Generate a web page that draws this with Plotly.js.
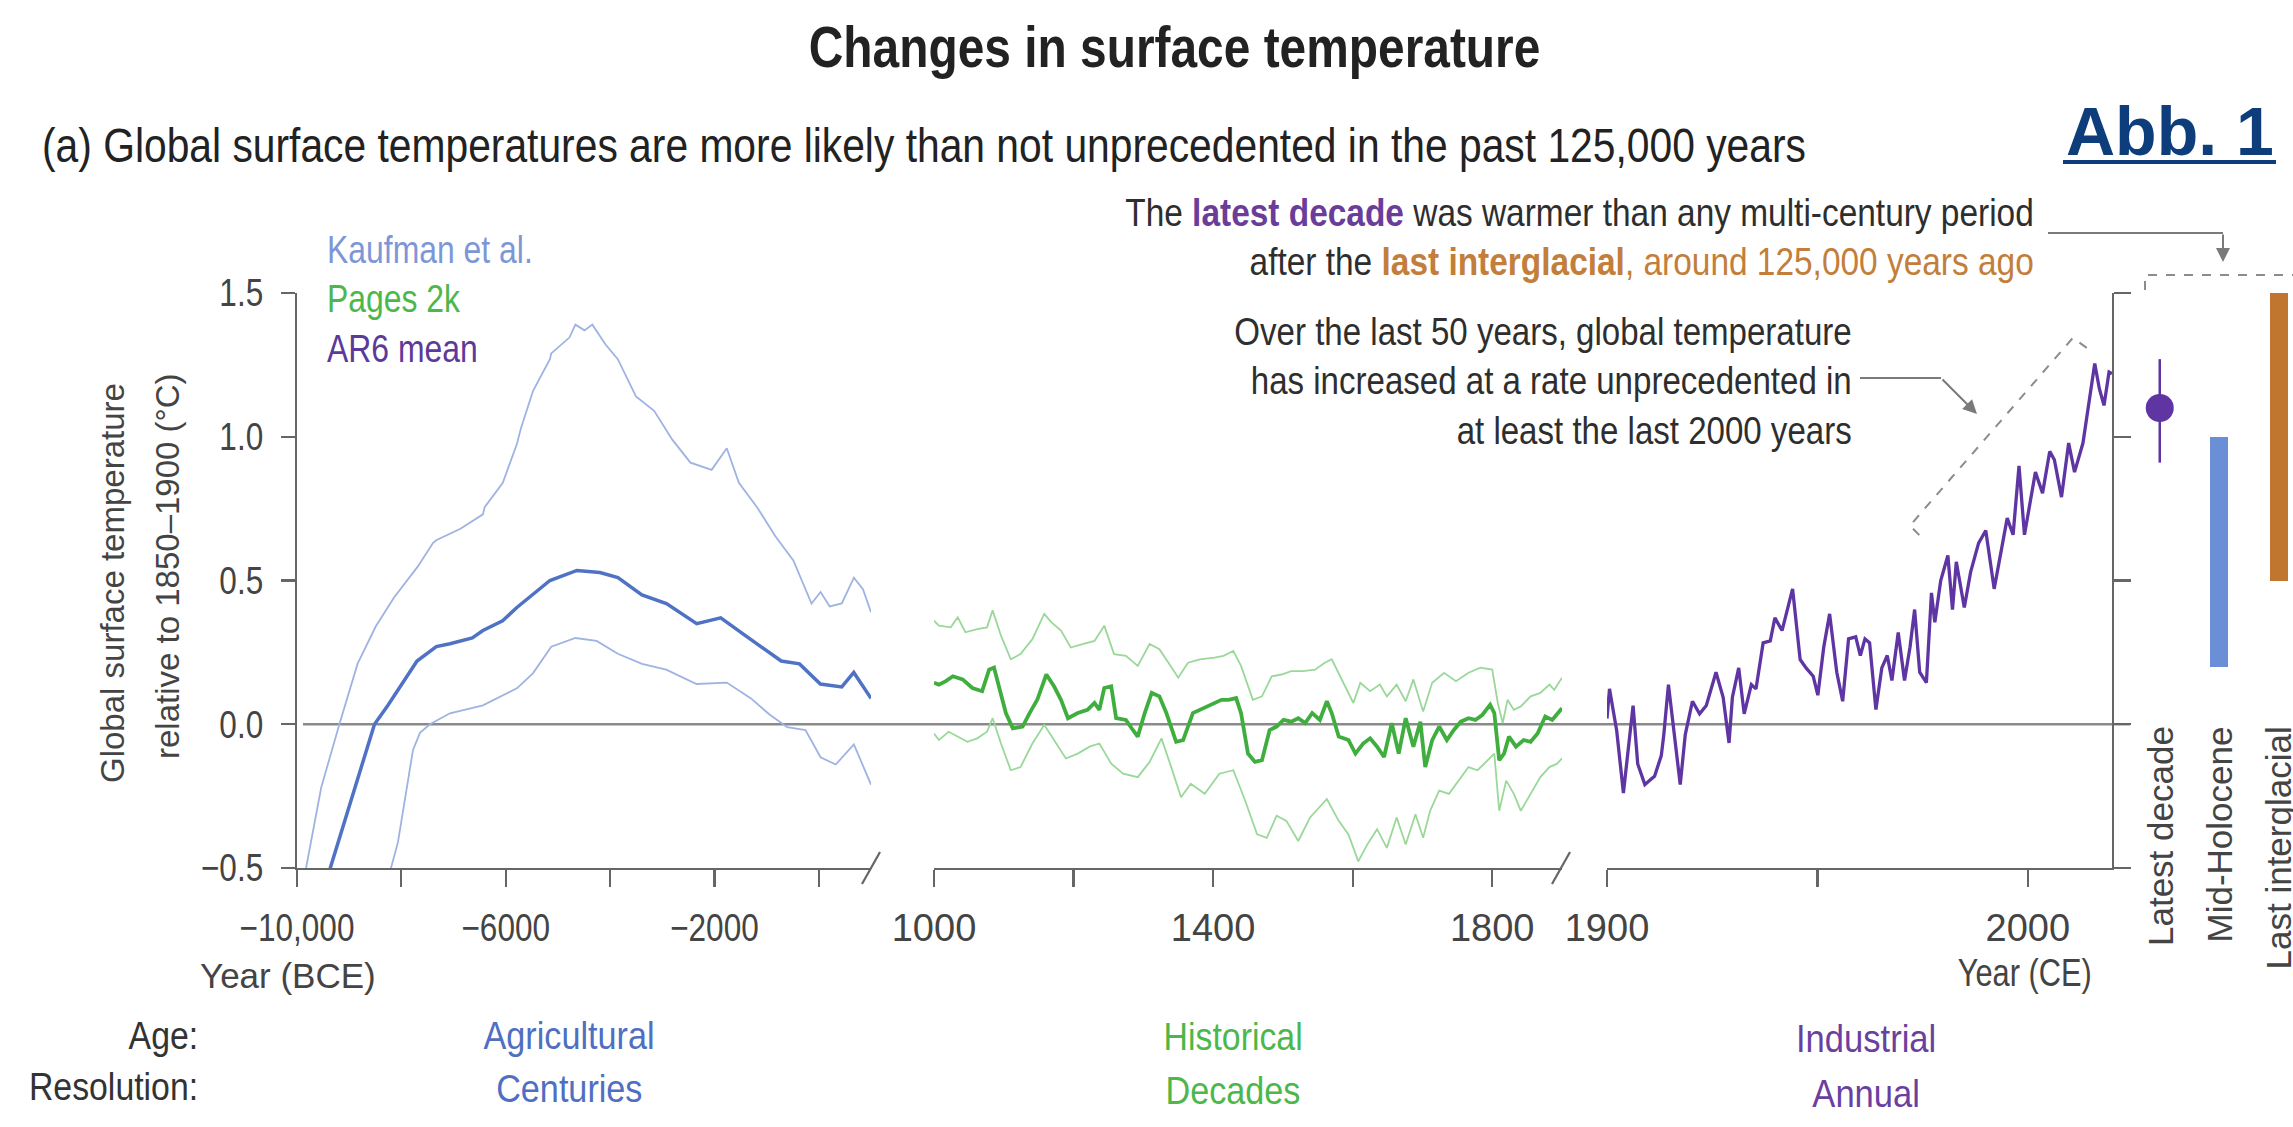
<!DOCTYPE html>
<html>
<head>
<meta charset="utf-8">
<script src="https://cdn.plot.ly/plotly-3.0.1.min.js"></script>
<style>html,body{margin:0;padding:0;background:#fff;}#chart{width:2293px;height:1127px;}</style>
</head>
<body>
<div id="chart"></div>
<script>
// ---------------- DATA ----------------
// Kaufman et al. (Agricultural age, centuries resolution) — year CE (negative = BCE)
const kaufMeanYear = [-9430,-9362,-8956,-8515,-8260,-7960,-7700,-7330,-7069,-6640,-6437,-6060,-5786,-5153,-4636,-4195,-3850,-3390,-2920,-2340,-1880,-1420,-720,-370,30,440,670,1000];
const kaufMean     = [-0.56,-0.5,-0.26,0.0,0.065,0.15,0.22,0.27,0.28,0.30,0.326,0.36,0.406,0.5,0.535,0.528,0.51,0.45,0.42,0.35,0.37,0.31,0.22,0.21,0.14,0.13,0.18,0.09];
const kaufUpperYear = [-9880,-9826,-9536,-9188,-8840,-8492,-8352,-8144,-7680,-7395,-7332,-6868,-6437,-6404,-6056,-5786,-5708,-5476,-5153,-5128,-4780,-4664,-4490,-4340,-4084,-3852,-3504,-3156,-2808,-2460,-2054,-1764,-1532,-1184,-836,-488,-140,34,208,440,672,846,1000];
const kaufUpper     = [-0.58,-0.5,-0.22,0.0,0.21,0.34,0.38,0.44,0.55,0.63,0.64,0.68,0.73,0.755,0.84,0.975,1.03,1.16,1.27,1.29,1.345,1.39,1.37,1.39,1.32,1.27,1.14,1.09,0.99,0.91,0.885,0.96,0.84,0.755,0.655,0.57,0.42,0.46,0.41,0.42,0.51,0.47,0.39];
const kaufLowerYear = [-8260,-8199,-8065,-7920,-7778,-7644,-7452,-7069,-6437,-5786,-5479,-5128,-4664,-4258,-3852,-3388,-2924,-2344,-1764,-1300,-952,-604,-256,34,324,672,1000];
const kaufLower     = [-0.56,-0.5,-0.41,-0.25,-0.09,-0.03,0.0,0.038,0.066,0.125,0.177,0.27,0.30,0.29,0.245,0.21,0.19,0.14,0.145,0.09,0.035,-0.01,-0.02,-0.115,-0.14,-0.07,-0.21];

// PAGES 2k (Historical age, decades resolution)
const pagesMeanYear = [1000,1007,1017,1027,1041,1055,1069,1079,1086,1093,1103,1113,1127,1137,1148,1161,1172,1182,1192,1206,1220,1230,1237,1244,1254,1261,1275,1285,1292,1302,1312,1323,1333,1347,1357,1371,1381,1391,1402,1412,1422,1433,1440,1450,1460,1470,1481,1491,1501,1512,1522,1532,1542,1553,1563,1570,1580,1594,1604,1615,1625,1635,1645,1656,1666,1676,1687,1697,1704,1714,1724,1735,1745,1755,1766,1776,1786,1797,1803,1810,1817,1824,1834,1845,1855,1865,1876,1886,1900];
const pagesMean     = [0.144,0.138,0.15,0.167,0.156,0.126,0.115,0.19,0.197,0.132,0.039,-0.014,-0.008,0.039,0.085,0.173,0.132,0.085,0.021,0.039,0.05,0.074,0.05,0.126,0.132,0.021,0.015,-0.02,-0.043,0.039,0.109,0.097,0.039,-0.061,-0.055,0.039,0.05,0.062,0.074,0.085,0.085,0.091,0.039,-0.102,-0.131,-0.125,-0.02,-0.008,0.015,0.009,0.021,0.004,0.039,0.015,0.08,0.039,-0.043,-0.055,-0.102,-0.067,-0.049,-0.078,-0.114,0.004,-0.102,0.021,-0.078,0.009,-0.149,-0.055,-0.008,-0.055,-0.02,0.009,0.021,0.015,0.033,0.068,0.039,-0.125,-0.102,-0.043,-0.078,-0.055,-0.061,-0.032,0.027,0.015,0.056];
const pagesUpperYear = [1000,1007,1024,1034,1045,1062,1076,1084,1096,1110,1124,1141,1158,1168,1182,1196,1213,1230,1244,1258,1275,1292,1309,1323,1336,1350,1364,1381,1402,1415,1429,1440,1457,1470,1484,1498,1512,1529,1546,1560,1570,1584,1601,1611,1625,1639,1649,1663,1676,1687,1701,1714,1731,1748,1766,1783,1800,1808,1815,1822,1831,1841,1855,1869,1882,1889,1900];
const pagesUpper     = [0.36,0.343,0.337,0.372,0.32,0.331,0.337,0.396,0.308,0.226,0.244,0.296,0.384,0.355,0.326,0.267,0.279,0.29,0.343,0.244,0.238,0.203,0.279,0.261,0.214,0.162,0.214,0.226,0.232,0.238,0.255,0.203,0.085,0.097,0.167,0.173,0.185,0.185,0.19,0.214,0.226,0.156,0.074,0.144,0.115,0.138,0.097,0.138,0.08,0.156,0.044,0.144,0.179,0.15,0.179,0.197,0.19,0.074,0.004,0.085,0.05,0.062,0.097,0.109,0.138,0.12,0.162];
const pagesLowerYear = [1000,1007,1021,1034,1048,1062,1076,1084,1096,1110,1124,1141,1158,1172,1189,1206,1223,1237,1254,1271,1292,1309,1326,1340,1354,1368,1388,1409,1429,1446,1463,1477,1491,1505,1522,1539,1563,1580,1594,1608,1621,1635,1649,1663,1676,1690,1701,1711,1724,1738,1752,1766,1779,1793,1803,1810,1820,1831,1841,1855,1869,1882,1893,1900];
const pagesLower     = [-0.032,-0.055,-0.026,-0.043,-0.061,-0.049,-0.026,0.021,-0.067,-0.16,-0.149,-0.067,-0.002,-0.055,-0.119,-0.102,-0.078,-0.067,-0.137,-0.172,-0.184,-0.131,-0.049,-0.149,-0.254,-0.207,-0.242,-0.172,-0.16,-0.266,-0.383,-0.395,-0.318,-0.336,-0.406,-0.324,-0.26,-0.336,-0.383,-0.477,-0.418,-0.365,-0.43,-0.324,-0.418,-0.313,-0.395,-0.301,-0.231,-0.242,-0.196,-0.149,-0.16,-0.125,-0.102,-0.301,-0.196,-0.242,-0.301,-0.242,-0.184,-0.149,-0.137,-0.119];

// AR6 mean (Industrial age, annual resolution)
const ar6Year = [1900,1900.6,1901.1,1902.3,1903.9,1905.1,1906.2,1907.3,1909,1910.1,1911.3,1912.9,1913.5,1914.6,1915.8,1917.4,1918.6,1920.3,1922,1923.6,1925.9,1927.6,1929,1929.8,1931.3,1932.6,1934.3,1935.4,1937.1,1938.8,1939.9,1941.6,1944.1,1945.9,1947.3,1949,1950.1,1951.5,1952.9,1954.6,1956,1957.4,1959.1,1960.2,1961.3,1962.4,1963.9,1965.3,1966.6,1967.7,1969.2,1970.7,1972,1973.1,1974.3,1975.9,1977.1,1977.9,1979.3,1981,1982.1,1983,1984.9,1986.4,1988.3,1990,1992,1993.4,1995.1,1996.5,1997.9,1999.2,2000.7,2001.8,2003.5,2005.2,2006.3,2008,2009.7,2011.1,2013.1,2014.5,2015.9,2017,2018.1,2019.3,2020];
const ar6Mean = [0.02,0.123,0.08,-0.022,-0.239,-0.08,0.065,-0.138,-0.21,-0.196,-0.181,-0.109,-0.036,0.138,-0.007,-0.21,-0.036,0.08,0.036,0.065,0.181,0.094,-0.065,0.094,0.196,0.036,0.138,0.123,0.283,0.29,0.37,0.326,0.471,0.225,0.196,0.167,0.101,0.268,0.384,0.181,0.08,0.297,0.304,0.239,0.297,0.283,0.051,0.196,0.239,0.152,0.319,0.152,0.268,0.399,0.181,0.145,0.457,0.355,0.5,0.587,0.399,0.565,0.406,0.529,0.63,0.674,0.471,0.587,0.717,0.659,0.899,0.659,0.79,0.877,0.804,0.949,0.92,0.79,0.978,0.877,0.978,1.123,1.255,1.167,1.109,1.225,1.22];

// Comparison periods (right panel)
const periodNames = ['Latest decade','Mid-Holocene','Last interglacial'];
const latestDecadeMean = [1.10];
const latestDecadeRange = [0.91, 1.27];
const midHoloceneRange = [0.20, 1.00];
const lastInterglacialRange = [0.50, 1.50];

// Tick labels
const yTickVals = [-0.5, 0, 0.5, 1.0, 1.5];
const yTickText = ['\u22120.5','0.0','0.5','1.0','1.5'];
const paleoTickVals = [-10000,-8000,-6000,-4000,-2000,0];
const paleoTickText = ['\u221210,000','','\u22126000','','\u22122000',''];
const histTickVals = [1000,1200,1400,1600,1800];
const histTickText = ['1000','','1400','','1800'];
const indTickVals = [1900,1950,2000];
const indTickText = ['1900','','2000'];

// ---------------- STYLE ----------------
const W = 2293, H = 1127;
const px = x => x / W;
const py = y => 1 - y / H;
const SANS = '"Liberation Sans", Arial, Helvetica, sans-serif';
const TICK_SQUEEZE = 0.83;      // condensed (Arial-Narrow-like) look for horizontal texts
const AX = '#666666';
const C_KAUF = '#4f72c4', C_KAUF_L = '#9fb3e2';
const C_PAGES = '#3fae3f', C_PAGES_L = '#9ad89a';
const C_AR6 = '#5f35a3';
const C_MH = '#6b8fd6', C_LIG = '#c0762f';

const line = (x, y, xa, color, width) => ({type:'scatter', mode:'lines', x, y, xaxis:xa, yaxis:'y',
  line:{color, width, shape:'linear'}, hoverinfo:'skip', showlegend:false});

const traces = [
  line(kaufUpperYear, kaufUpper, 'x', C_KAUF_L, 1.8),
  line(kaufLowerYear, kaufLower, 'x', C_KAUF_L, 1.8),
  line(kaufMeanYear, kaufMean, 'x', C_KAUF, 3.5),
  line(pagesUpperYear, pagesUpper, 'x2', C_PAGES_L, 1.8),
  line(pagesLowerYear, pagesLower, 'x2', C_PAGES_L, 1.8),
  line(pagesMeanYear, pagesMean, 'x2', C_PAGES, 3.8),
  line(ar6Year, ar6Mean, 'x3', C_AR6, 3.3),
  {type:'scatter', mode:'markers', x:[2000], y:[0], xaxis:'x3', yaxis:'y2', marker:{opacity:0}, hoverinfo:'skip', showlegend:false},
  {type:'bar', x:[periodNames[1], periodNames[2]],
   y:[midHoloceneRange[1]-midHoloceneRange[0], lastInterglacialRange[1]-lastInterglacialRange[0]],
   base:[midHoloceneRange[0], lastInterglacialRange[0]], width:0.3,
   marker:{color:[C_MH, C_LIG], line:{width:0}}, xaxis:'x4', yaxis:'y', hoverinfo:'skip', showlegend:false},
  {type:'scatter', mode:'markers', x:[periodNames[0]], y:latestDecadeMean, xaxis:'x4', yaxis:'y',
   marker:{size:28, color:C_AR6},
   error_y:{type:'data', symmetric:false, array:[latestDecadeRange[1]-latestDecadeMean[0]], arrayminus:[latestDecadeMean[0]-latestDecadeRange[0]], thickness:2.5, width:0, color:C_AR6},
   hoverinfo:'skip', showlegend:false}
];

const tickFont = {family:SANS, size:38, color:'#444'};
const xBase = {anchor:'y', showline:true, linecolor:AX, linewidth:2.2, ticks:'outside', ticklen:17, tickwidth:2.2, tickcolor:AX,
  showgrid:false, zeroline:false, tickfont:tickFont, tickmode:'array', fixedrange:true, ticklabelstandoff:8};

// helper for paper-positioned text; sq = horizontal condensing factor (false = none)
const annSqueeze = [];
function txt(xp, yp, text, size, color, opts) {
  const o = Object.assign({xref:'paper', yref:'paper', x:px(xp), y:py(yp), xanchor:'center', yanchor:'middle', showarrow:false,
    text, font:{family:SANS, size, color}}, opts || {});
  if (!o.align) o.align = o.xanchor === 'right' ? 'right' : (o.xanchor === 'left' ? 'left' : 'center');
  const sq = (o.sq === undefined) ? 0.83 : o.sq; delete o.sq;
  annSqueeze.push(sq);
  return o;
}

const annotations = [
  txt(1174, 47, '<b>Changes in surface temperature</b>', 57, '#222', {sq:0.84}),
  txt(40, 145, '(a) Global surface temperatures are more likely than not unprecedented in the past 125,000 years', 48, '#222', {xanchor:'left', sq:0.85}),
  txt(2276, 131, '<b>Abb. 1</b>', 68, '#0d3d7a', {xanchor:'right', sq:false}),
  txt(2036, 237, 'The <b><span style="color:#6a3d9a">latest decade</span></b> was warmer than any multi-century period<br>after the <b><span style="color:#c27e3a">last interglacial</span></b><span style="color:#c27e3a">, around 125,000 years ago</span>', 38, '#2e2e2e', {xanchor:'right', sq:0.88}),
  txt(1854, 382, 'Over the last 50 years, global temperature<br>has increased at a rate unprecedented in<br>at least the last 2000 years', 38, '#2e2e2e', {xanchor:'right', sq:0.87}),
  txt(325, 299, '<span style="color:#7d97d6">Kaufman et al.</span><br><span style="color:#4cb84c">Pages 2k</span><br><span style="color:#5b3a9a">AR6 mean</span>', 38, '#444', {xanchor:'left', sq:0.84}),
  txt(112, 583, 'Global surface temperature', 33, '#444', {textangle:-90, sq:false}),
  txt(167, 566, 'relative to 1850\u20131900 (\u00b0C)', 33, '#444', {textangle:-90, sq:false}),
  txt(288, 975, 'Year (BCE)', 35, '#444', {sq:false}),
  txt(2024, 973, 'Year (CE)', 38, '#444', {sq:0.81}),
  txt(200, 1036, 'Age:', 38, '#333', {xanchor:'right', sq:0.89}),
  txt(200, 1087, 'Resolution:', 38, '#333', {xanchor:'right', sq:0.89}),
  txt(569, 1036, 'Agricultural', 38, '#4f6fc2', {sq:0.9}),
  txt(569, 1089, 'Centuries', 38, '#4f6fc2', {sq:0.9}),
  txt(1233, 1037, 'Historical', 38, '#4cb84c', {sq:0.89}),
  txt(1233, 1091, 'Decades', 38, '#4cb84c', {sq:0.9}),
  txt(1866, 1039, 'Industrial', 38, '#6a3fa0', {sq:0.91}),
  txt(1866, 1094, 'Annual', 38, '#6a3fa0', {sq:0.91})
];
// rotated period labels under the comparison markers
periodNames.forEach(name => {
  annotations.push({xref:'x4', yref:'y', x:name, y:0, textangle:-90, xanchor:'center', yanchor:'top', showarrow:false,
    text:name, font:{family:SANS, size:35, color:'#444'}});
  annSqueeze.push(false);
});
// arrow heads
annotations.push({xref:'paper', yref:'paper', x:px(2223), y:py(262), ax:0, ay:-29, text:'', showarrow:true,
  arrowhead:2, arrowsize:1.4, arrowwidth:2, arrowcolor:'#7a7a7a'});
annSqueeze.push(false);
annotations.push({xref:'paper', yref:'paper', x:px(1977), y:py(414), ax:-36, ay:-36, text:'', showarrow:true,
  arrowhead:2, arrowsize:1.4, arrowwidth:2, arrowcolor:'#7a7a7a'});
annSqueeze.push(false);

const layout = {
  width:W, height:H, margin:{l:0,r:0,t:0,b:0}, paper_bgcolor:'#fff', plot_bgcolor:'rgba(0,0,0,0)', showlegend:false,
  bargap:0,
  yaxis:{domain:[py(868), py(293)], range:[-0.5,1.5], anchor:'x', showline:true, linecolor:AX, linewidth:2.2,
    ticks:'outside', ticklen:14, tickwidth:2.2, tickcolor:AX, tickmode:'array', tickvals:yTickVals, ticktext:yTickText,
    tickfont:tickFont, showgrid:false, zeroline:false, fixedrange:true, ticklabelstandoff:10},
  yaxis2:{overlaying:'y', anchor:'x3', side:'right', range:[-0.5,1.5], showline:true, linecolor:AX, linewidth:2.2,
    ticks:'outside', ticklen:17, tickwidth:2.2, tickcolor:AX, tickmode:'array', tickvals:yTickVals, showticklabels:false,
    showgrid:false, zeroline:false, fixedrange:true},
  xaxis: Object.assign({}, xBase, {domain:[px(297), px(871)], range:[-10000, 1000], tickvals:paleoTickVals, ticktext:paleoTickText}),
  xaxis2: Object.assign({}, xBase, {domain:[px(934), px(1562)], range:[1000, 1900], tickvals:histTickVals, ticktext:histTickText}),
  xaxis3: Object.assign({}, xBase, {domain:[px(1607), px(2112)], range:[1900, 2020], tickvals:indTickVals, ticktext:indTickText}),
  xaxis4: {domain:[px(2130), px(2291)], anchor:'y', type:'category', categoryorder:'array', categoryarray:periodNames,
    range:[-0.5, 2.206], showline:false, ticks:'', showticklabels:false, showgrid:false, zeroline:false, fixedrange:true},
  shapes:[
    {type:'line', xref:'paper', yref:'y', x0:px(303), x1:px(2130), y0:0, y1:0, line:{color:'#8a8a8a', width:2.5}, layer:'below'},
    {type:'line', xref:'paper', yref:'paper', x0:px(862), y0:py(884), x1:px(880), y1:py(852), line:{color:AX, width:2.2}},
    {type:'line', xref:'paper', yref:'paper', x0:px(1552), y0:py(884), x1:px(1570), y1:py(852), line:{color:AX, width:2.2}},
    {type:'path', xref:'x3', yref:'y', path:'M 2014,1.309 L 2010.7,1.344 L 1972,0.691 L 1974.8,0.649', line:{color:'#8c8c8c', width:2, dash:'dash'}},
    {type:'path', xref:'paper', yref:'paper', path:`M ${px(2145)},${py(290)} L ${px(2145)},${py(275)} L ${px(2293)},${py(275)}`, line:{color:'#8c8c8c', width:2, dash:'dash'}},
    {type:'line', xref:'paper', yref:'paper', x0:px(2048), y0:py(233), x1:px(2223), y1:py(233), line:{color:'#7a7a7a', width:2}},
    {type:'line', xref:'paper', yref:'paper', x0:px(1860), y0:py(378), x1:px(1941), y1:py(378), line:{color:'#7a7a7a', width:2}},
    {type:'line', xref:'paper', yref:'paper', x0:px(2063), y0:py(162), x1:px(2276), y1:py(162), line:{color:'#0d3d7a', width:4}}
  ],
  annotations
};

// compress a text element horizontally about its own anchor point (keeps it real text)
function squeeze(el, s) {
  const ax = parseFloat(el.getAttribute('x')) || 0;
  const t = el.getAttribute('transform') || '';
  el.setAttribute('transform', `${t} translate(${ax},0) scale(${s},1) translate(${-ax},0)`.trim());
}

Plotly.newPlot('chart', traces, layout, {staticPlot:true, displayModeBar:false}).then(gd => {
  gd.querySelectorAll('.xtick text, .ytick text').forEach(el => squeeze(el, TICK_SQUEEZE));
  gd.querySelectorAll('g.annotation').forEach(g => {
    const i = parseInt(g.getAttribute('data-index'), 10);
    const s = annSqueeze[i];
    if (s) g.querySelectorAll('text.annotation-text').forEach(el => squeeze(el, s));
  });
});
</script>
</body>
</html>
